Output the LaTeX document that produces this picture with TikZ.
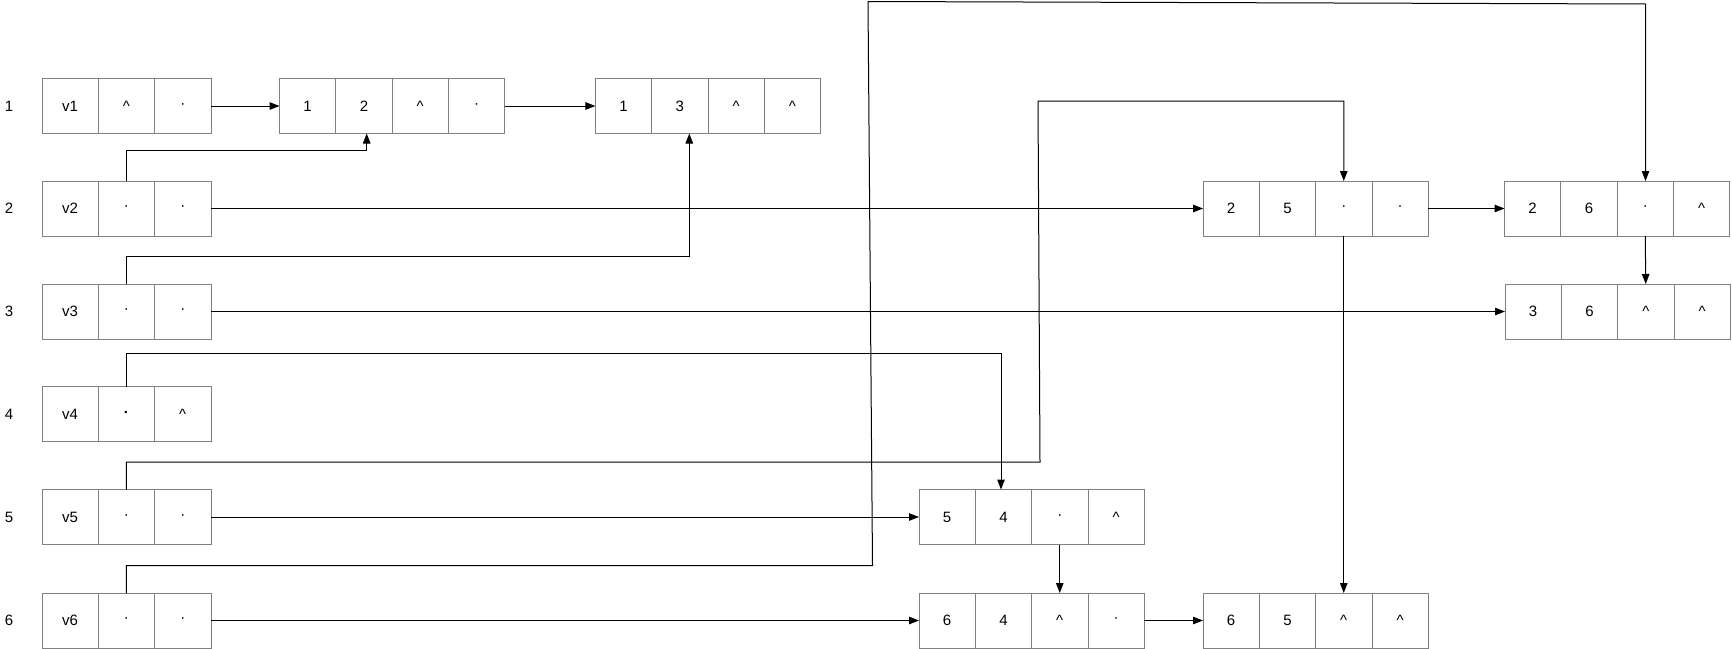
\documentclass[tikz,border=0pt]{standalone}
\usepackage{fontspec}
\setmainfont{Liberation Sans}
\usetikzlibrary{positioning,arrows.meta}
\definecolor{boxgray}{RGB}{128,128,128}
\begin{document}
\begin{tikzpicture}[x=1pt,y=-1pt,
  cell/.style={draw=boxgray, line width=0.8pt, minimum width=56.3pt, minimum height=55pt,
    inner sep=0pt, outer sep=0pt, font=\fontsize{15}{17}\selectfont, text=black},
  rowlabel/.style={font=\fontsize{15}{17}\selectfont, inner sep=0pt},
  link/.style={draw=black, line width=1pt, -{Triangle[length=10pt,width=7.5pt]}}]
\useasboundingbox (0,0) rectangle (1732,648);

% row labels
\node[rowlabel] (l1) at (9,106) {1};
\node[rowlabel] (l2) at (9,208.5) {2};
\node[rowlabel] (l3) at (9,311.5) {3};
\node[rowlabel] (l4) at (9,414) {4};
\node[rowlabel] (l5) at (9,517) {5};
\node[rowlabel] (l6) at (9,620.5) {6};

% head nodes
\node[cell] (v1a) at (70.15,106) {v1};
\node[cell, right=0pt of v1a] (v1b) {\textasciicircum};
\node[cell, right=0pt of v1b] (v1c) {·};

\node[cell] (v2a) at (70.15,208.5) {v2};
\node[cell, right=0pt of v2a] (v2b) {·};
\node[cell, right=0pt of v2b] (v2c) {·};

\node[cell] (v3a) at (70.15,311.5) {v3};
\node[cell, right=0pt of v3a] (v3b) {·};
\node[cell, right=0pt of v3b] (v3c) {·};

\node[cell] (v4a) at (70.15,414) {v4};
\node[cell, right=0pt of v4a] (v4b) {\textbf{·}};
\node[cell, right=0pt of v4b] (v4c) {\textasciicircum};

\node[cell] (v5a) at (70.15,517) {v5};
\node[cell, right=0pt of v5a] (v5b) {·};
\node[cell, right=0pt of v5b] (v5c) {·};

\node[cell] (v6a) at (70.15,620.5) {v6};
\node[cell, right=0pt of v6a] (v6b) {·};
\node[cell, right=0pt of v6b] (v6c) {·};

% edge nodes
% 1 2 ^ .
\node[cell] (p1a) at (307.65,106) {1};
\node[cell, right=0pt of p1a] (p1b) {2};
\node[cell, right=0pt of p1b] (p1c) {\textasciicircum};
\node[cell, right=0pt of p1c] (p1d) {·};
% 1 3 ^ ^
\node[cell] (q1a) at (623.55,106) {1};
\node[cell, right=0pt of q1a] (q1b) {3};
\node[cell, right=0pt of q1b] (q1c) {\textasciicircum};
\node[cell, right=0pt of q1c] (q1d) {\textasciicircum};
% 2 5 . .
\node[cell] (p2a) at (1231.15,208.5) {2};
\node[cell, right=0pt of p2a] (p2b) {5};
\node[cell, right=0pt of p2b] (p2c) {·};
\node[cell, right=0pt of p2c] (p2d) {·};
% 2 6 . ^
\node[cell] (q2a) at (1532.65,208.5) {2};
\node[cell, right=0pt of q2a] (q2b) {6};
\node[cell, right=0pt of q2b] (q2c) {·};
\node[cell, right=0pt of q2c] (q2d) {\textasciicircum};
% 3 6 ^ ^
\node[cell] (p3a) at (1533.15,311.5) {3};
\node[cell, right=0pt of p3a] (p3b) {6};
\node[cell, right=0pt of p3b] (p3c) {\textasciicircum};
\node[cell, right=0pt of p3c] (p3d) {\textasciicircum};
% 5 4 . ^
\node[cell] (p5a) at (947.15,517) {5};
\node[cell, right=0pt of p5a] (p5b) {4};
\node[cell, right=0pt of p5b] (p5c) {·};
\node[cell, right=0pt of p5c] (p5d) {\textasciicircum};
% 6 4 ^ .
\node[cell] (p6a) at (947.15,620.5) {6};
\node[cell, right=0pt of p6a] (p6b) {4};
\node[cell, right=0pt of p6b] (p6c) {\textasciicircum};
\node[cell, right=0pt of p6c] (p6d) {·};
% 6 5 ^ ^
\node[cell] (q6a) at (1231.15,620.5) {6};
\node[cell, right=0pt of q6a] (q6b) {5};
\node[cell, right=0pt of q6b] (q6c) {\textasciicircum};
\node[cell, right=0pt of q6c] (q6d) {\textasciicircum};

% bend points
\coordinate (k2) at (366.7,150);
\coordinate (k3) at (689.3,256);
\coordinate (k4) at (1001,353.5);
\coordinate (k5a) at (1040,462);
\coordinate (k5b) at (1038,101);
\coordinate (k6a) at (872.5,565.5);
\coordinate (k6b) at (868,1.5);
\coordinate (k6c) at (1645.5,4);

% horizontal links
\draw[link] (v1c.east) -- (p1a.west);
\draw[link] (p1d.east) -- (q1a.west);
\draw[link] (v2c.east) -- (p2a.west);
\draw[link] (p2d.east) -- (q2a.west);
\draw[link] (v3c.east) -- (p3a.west);
\draw[link] (v5c.east) -- (p5a.west);
\draw[link] (v6c.east) -- (p6a.west);
\draw[link] (p6d.east) -- (q6a.west);

% vertical / routed links
\draw[link] (v2b.north) |- (k2) -- (k2 |- p1b.south);
\draw[link] (v3b.north) |- (k3) -- (k3 |- q1b.south);
\draw[link] (v4b.north) |- (k4) -- (k4 |- p5b.north);
\draw[link] (v5b.north) |- (k5a) -- (k5b) -| (p2c.north);
\draw[link] (v6b.north) |- (k6a) -- (k6b) -- (k6c) -- (k6c |- q2c.north);
\draw[link] (p2c.south) -- (q6c.north);
\draw[link] (q2c.south) -- (p3c.north);
\draw[link] (p5c.south) -- (p6c.north);
\end{tikzpicture}
\end{document}
